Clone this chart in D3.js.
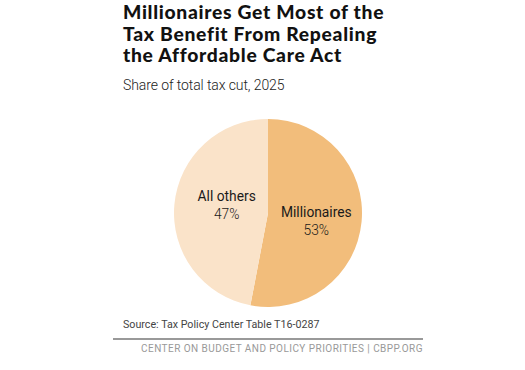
<!DOCTYPE html>
<html>
<head>
<meta charset="utf-8">
<script src="https://cdn.jsdelivr.net/npm/d3@7"></script>
<style>
  body { margin: 0; background: #fff; }
  svg { display: block; }
</style>
</head>
<body>
<div id="chart"></div>
<script>
const categories = ["Millionaires", "All others"]
const shares = [53, 47]
const colors = ["#F2BD7B", "#FAE3C9"]
const titleLines = ["Millionaires Get Most of the", "Tax Benefit From Repealing", "the Affordable Care Act"]
const subtitle = "Share of total tax cut, 2025"
const source = "Source: Tax Policy Center Table T16-0287"
const footer = "CENTER ON BUDGET AND POLICY PRIORITIES | CBPP.ORG"

const width = 525, height = 370
const cx = 268, cy = 213, radius = 94

const svg = d3.select("#chart").append("svg")
    .attr("width", width)
    .attr("height", height)

svg.append("g")
    .selectAll("text")
    .data(titleLines)
    .join("text")
    .attr("x", 123)
    .attr("y", (d, i) => 19 + i * 21.7)
    .attr("font-family", "Lato, sans-serif")
    .attr("font-weight", 900)
    .attr("font-size", 19.3)
    .attr("letter-spacing", 0.7)
    .attr("fill", "#111")
    .text(d => d)

svg.append("text")
    .attr("x", 123)
    .attr("y", 90)
    .attr("font-family", "Roboto, sans-serif")
    .attr("font-weight", 300)
    .attr("font-size", 14)
    .attr("letter-spacing", -0.1)
    .attr("fill", "#222")
    .text(subtitle)

const pie = d3.pie().sort(null).value(d => d.value)
const arc = d3.arc().innerRadius(0).outerRadius(radius)
const data = categories.map((c, i) => ({ name: c, value: shares[i], color: colors[i] }))
const arcs = pie(data)

const g = svg.append("g").attr("transform", `translate(${cx},${cy})`)

g.selectAll("path")
    .data(arcs)
    .join("path")
    .attr("d", arc)
    .attr("fill", d => d.data.color)

// labels sit near the slice centroid, nudged a little like the original
const labelArc = d3.arc().innerRadius(radius * 0.42).outerRadius(radius * 0.42)
const nudge = [[9, 8], [-2, 0]]
const labels = g.selectAll("g.label")
    .data(arcs)
    .join("g")
    .attr("class", "label")
    .attr("transform", (d, i) => {
        const [x, y] = labelArc.centroid(d)
        return `translate(${x + nudge[i][0]},${y + nudge[i][1]})`
    })
    .attr("text-anchor", "middle")
    .attr("font-family", "Roboto, sans-serif")
    .attr("font-size", 13.8)
    .attr("fill", "#1a1a1a")

labels.append("text")
    .attr("y", -8)
    .text(d => d.data.name)

labels.append("text")
    .attr("y", 10)
    .attr("font-weight", 300)
    .text(d => d.data.value + "%")

svg.append("text")
    .attr("x", 123)
    .attr("y", 328)
    .attr("font-family", "Roboto, sans-serif")
    .attr("font-size", 10.7)
    .attr("fill", "#444")
    .text(source)

svg.append("line")
    .attr("x1", 113)
    .attr("x2", 423)
    .attr("y1", 339)
    .attr("y2", 339)
    .attr("stroke", "#777")
    .attr("stroke-width", 1.6)

svg.append("text")
    .attr("x", 423)
    .attr("y", 352)
    .attr("text-anchor", "end")
    .attr("font-family", "Roboto, sans-serif")
    .attr("font-size", 10)
    .attr("letter-spacing", 0.45)
    .attr("fill", "#999")
    .text(footer)
</script>
</body>
</html>
